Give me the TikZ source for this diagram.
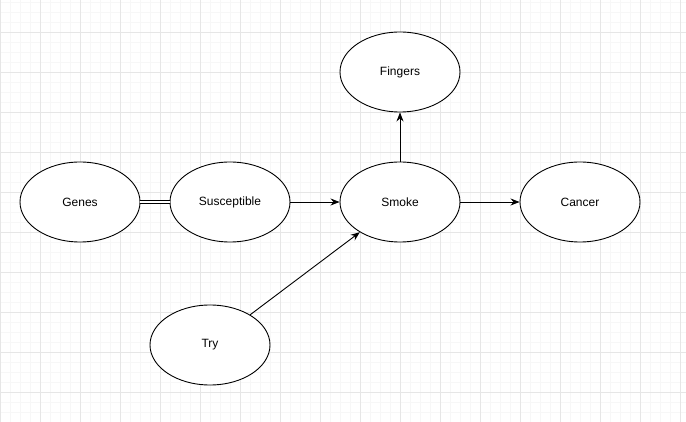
\documentclass[tikz,border=0pt]{standalone}
\usepackage{fontspec}
\setmainfont{Liberation Sans}
\usepackage{xcolor}
\usepackage{tikz}
\usetikzlibrary{arrows.meta,shapes.geometric}
\definecolor{gridminor}{HTML}{F7F7F7}
\definecolor{gridmajor}{HTML}{E6E6E6}

\begin{document}
\begin{tikzpicture}[x=1pt,y=-1pt,
  ell/.style={draw,ellipse,line width=0.9pt,minimum width=120pt,minimum height=80pt,inner sep=0pt,fill=white,font=\fontsize{12}{14}\selectfont},
  link/.style={line width=0.9pt,-{Stealth[length=9pt,width=7pt]}}]
\useasboundingbox (0,0) rectangle (686,422);
\fill[white] (0,0) rectangle (686,422);
% background grid
\foreach \x in {0,10,...,680} \draw[gridminor,line width=0.8pt] (\x,0) -- (\x,422);
\foreach \y in {2,12,...,422} \draw[gridminor,line width=0.8pt] (0,\y) -- (686,\y);
\foreach \x in {0,40,...,680} \draw[gridmajor,line width=0.8pt] (\x,0) -- (\x,422);
\foreach \y in {32,72,...,422} \draw[gridmajor,line width=0.8pt] (0,\y) -- (686,\y);
\node at (80,202) (genes) [ell] {Genes};
\node at (230,202) (susceptible) [ell] {Susceptible};
\node at (400,202) (smoke) [ell] {Smoke};
\node at (580,202) (cancer) [ell] {Cancer};
\node at (400,72) (fingers) [ell] {Fingers};
\node at (210,345) (try) [ell] {Try};
\draw[line width=0.8pt,double,double distance=2pt] (genes) -- (susceptible);
\draw[link] (susceptible) -- (smoke);
\draw[link] (smoke) -- (cancer);
\draw[link] (smoke) -- (fingers);
\draw[link] (try) -- (smoke);
\end{tikzpicture}
\end{document}
